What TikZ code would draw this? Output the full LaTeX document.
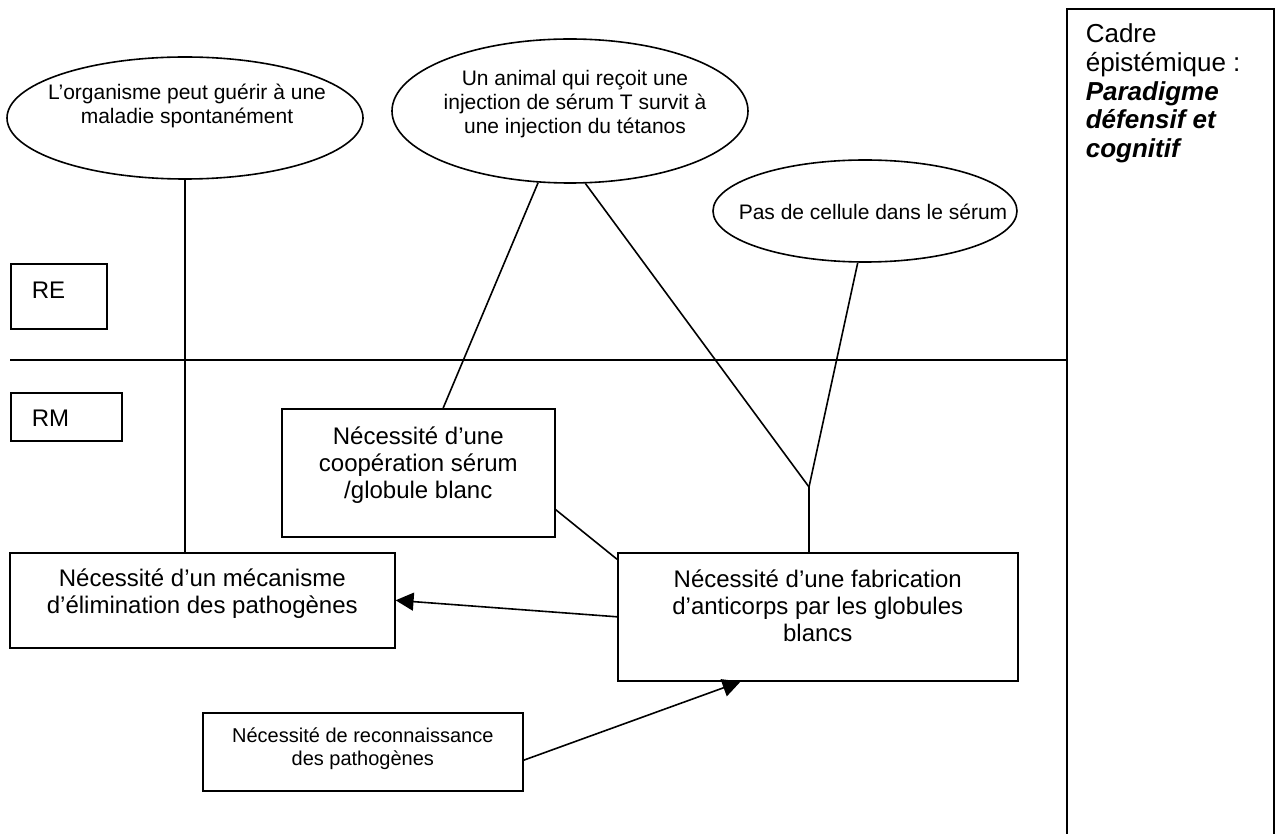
\documentclass[tikz,border=0pt]{standalone}
\usepackage{fontspec}
\setmainfont{Liberation Sans}
\usetikzlibrary{shapes.geometric,arrows.meta}
\newcommand{\gras}[1]{\textbf{\textit{#1}}}

\begin{document}
\begin{tikzpicture}[x=1pt,y=-1pt,line width=1.6pt,
  bulle/.style={draw,ellipse,inner sep=0pt},
  boite/.style={draw,rectangle,inner sep=0pt,anchor=north west},
  texte/.style={align=center,inner sep=0pt,anchor=north,font=\fontsize{24}{27}\selectfont},
  petit/.style={texte,font=\fontsize{21}{24}\selectfont},
  fleche/.style={-{Triangle[length=18pt,width=18pt]}}]
  \useasboundingbox (0,0) rectangle (1278,834);
  \node[bulle,minimum width=356pt,minimum height=122pt,
    label={[petit,xshift=2pt,yshift=-27pt]north:{L’organisme peut guérir à une\\maladie spontanément}}]
    (guerison) at (185,118) {};
  \node[bulle,minimum width=356pt,minimum height=144pt,
    label={[petit,xshift=5pt,yshift=-31pt]north:{Un animal qui reçoit une\\injection de sérum T survit à\\une injection du tétanos}}]
    (serum) at (570,111) {};
  \node[bulle,minimum width=304pt,minimum height=102pt,
    label={[petit,xshift=8pt,yshift=-44pt]north:{Pas de cellule dans le sérum}}]
    (cellule) at (865,211) {};
  \node[boite,minimum width=207pt,minimum height=832pt,
    label={[texte,anchor=north west,align=left,xshift=19pt,yshift=-15pt,font=\fontsize{26}{28.7}\selectfont]north west:{Cadre\\épistémique :\\\gras{Paradigme}\\\gras{défensif et}\\\gras{cognitif}}}]
    (cadre) at (1066,8) {};
  \node[boite,minimum width=96pt,minimum height=65pt,
    label={[texte,anchor=north west,xshift=21pt,yshift=-18pt]north west:RE}] (re) at (10,263) {};
  \node[boite,minimum width=111pt,minimum height=48pt,
    label={[texte,anchor=north west,xshift=21pt,yshift=-17pt]north west:RM}] (rm) at (10,392) {};
  \node[boite,minimum width=273pt,minimum height=128pt,
    label={[texte,yshift=-18pt]north:{Nécessité d’une\\coopération sérum\\/globule blanc}}] (coop) at (281,408) {};
  \node[boite,minimum width=385pt,minimum height=95pt,
    label={[texte,yshift=-16pt]north:{Nécessité d’un mécanisme\\d’élimination des pathogènes}}] (elim) at (9,552) {};
  \node[boite,minimum width=400pt,minimum height=128pt,
    label={[texte,yshift=-17pt]north:{Nécessité d’une fabrication\\d’anticorps par les globules\\blancs}}] (fab) at (617,552) {};
  \node[boite,minimum width=320pt,minimum height=78pt,
    label={[texte,yshift=-15pt,font=\fontsize{20}{23}\selectfont]north:{Nécessité de reconnaissance\\des pathogènes}}] (reco) at (202,712) {};
  \coordinate (jonction) at (809,487);
  \coordinate (ligne) at (10,360);

  \draw (ligne) -- (ligne -| cadre.west);
  \draw (guerison.south) -- (guerison.south |- elim.north);
  \draw (serum.246) -- (coop.69);
  \draw (serum.282) -- (jonction);
  \draw (cellule.262) -- (jonction);
  \draw (jonction) -- (jonction |- fab.north);
  \draw (coop.-15) -- (fab.164);
  \draw[fleche] (fab.west) -- (elim.east);
  \draw[fleche] (reco.-3) -- (fab.220);
\end{tikzpicture}
\end{document}
